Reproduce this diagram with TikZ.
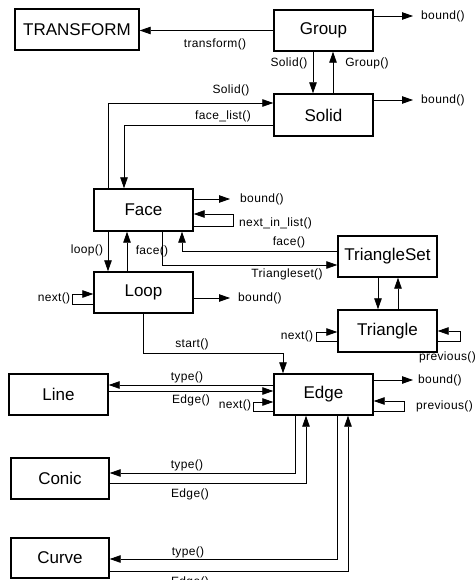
\documentclass[tikz,border=0pt]{standalone}
\usepackage{fontspec}
\setmainfont{Liberation Sans}
\newfontfamily\lblfont[LetterSpace=3]{Liberation Sans}
\usetikzlibrary{arrows.meta}
\begin{document}
\begin{tikzpicture}[x=1pt,y=-1pt,
  box/.style={draw,line width=1.4pt,minimum width=99pt,minimum height=41pt,inner sep=0pt,
    font=\fontsize{17}{20}\selectfont},
  conn/.style={line width=0.8pt,-{Triangle[length=11pt,width=7.5pt]}},
  lbl/.style={inner sep=0pt,font=\lblfont\fontsize{12}{14}\selectfont},
  lblw/.style={lbl,anchor=west}]
\useasboundingbox (0,0) rectangle (475,580);

% classes
\node[box,minimum width=124pt] (T) at (77,29.5) {TRANSFORM};
\node[box] (G) at (323.5,30.5) {Group};
\node[box,minimum height=42pt] (S) at (323.5,115) {Solid};
\node[box,minimum height=42pt] (F) at (143.5,210) {Face};
\node[box] (TS) at (387.5,256.5) {TriangleSet};
\node[box] (L) at (143.5,292.5) {Loop};
\node[box,minimum height=42pt] (Tr) at (387.5,331) {Triangle};
\node[box] (Ln) at (58.5,394.5) {Line};
\node[box] (E) at (323.5,394.5) {Edge};
\node[box,minimum width=98pt] (C) at (60,478.5) {Conic};
\node[box,minimum width=98pt,minimum height=40pt] (Cv) at (60,558) {Curve};

% free ends of the bound() arrows
\coordinate (gb) at (413,16);
\coordinate (sb) at (413,100);
\coordinate (fb) at (230,199);
\coordinate (lb) at (230,298);
\coordinate (eb) at (413,380);

% Group / Solid
\draw[conn] (G.west) -- (G.west -| T.east);
\draw[conn] ([yshift=14.5pt]G.east) -- (gb);
\draw[conn] ([xshift=-10.5pt]G.south) -- ([xshift=-10.5pt]S.north);
\draw[conn] ([xshift=9.5pt]S.north) -- ([xshift=9.5pt]G.south);
\draw[conn] ([yshift=15pt]S.east) -- (sb);
\draw[conn] ([xshift=-35.5pt]F.north) |- ([yshift=12pt]S.west);
\draw[conn] ([yshift=-10pt]S.west) -| ([xshift=-19.5pt]F.north);

% Face
\draw[conn] ([yshift=11pt]F.east) -- (fb);
\draw[conn] ([yshift=-16pt]F.east) -- ++(40,0) |- ([yshift=-4pt]F.east);
\draw[conn] ([xshift=-35.5pt]F.south) -- ([xshift=-35.5pt]L.north);
\draw[conn] ([xshift=-16.5pt]L.north) -- ([xshift=-16.5pt]F.south);
\draw[conn] ([yshift=5.5pt]TS.west) -| ([xshift=38.5pt]F.south);
\draw[conn] ([xshift=18.5pt]F.south) |- ([yshift=-8.5pt]TS.west);

% TriangleSet / Triangle
\draw[conn] ([xshift=-9.5pt]TS.south) -- ([xshift=-9.5pt]Tr.north);
\draw[conn] ([xshift=10.5pt]Tr.north) -- ([xshift=10.5pt]TS.south);
\draw[conn] ([yshift=-10pt]Tr.west) -- ++(-21,0) |- ([yshift=-1pt]Tr.west);
\draw[conn] ([yshift=-10pt]Tr.east) -- ++(23,0) |- (Tr.east);

% Loop
\draw[conn] ([yshift=-11.5pt]L.west) -- ++(-21,0) |- ([yshift=-1.5pt]L.west);
\draw[conn] ([yshift=-5.5pt]L.east) -- (lb);
\draw[conn] (L.south) -- ++(0,40) -| ([xshift=-40.5pt]E.north);

% Edge
\draw[conn] ([yshift=14.5pt]E.east) -- (eb);
\draw[conn] ([yshift=-16.5pt]E.east) -- ++(31,0) |- ([yshift=-6.5pt]E.east);
\draw[conn] ([yshift=-16.5pt]E.west) -- ++(-20,0) |- ([yshift=-7.5pt]E.west);
\draw[conn] ([yshift=9.5pt]E.west) -- ([yshift=9.5pt]Ln.east);
\draw[conn] ([yshift=3.5pt]Ln.east) -- ([yshift=3.5pt]E.west);
\draw[conn] ([xshift=-28.5pt]E.south) |- ([yshift=5.5pt]C.east);
\draw[conn] ([yshift=-4.5pt]C.east) -| ([xshift=-17.5pt]E.south);
\draw[conn] ([xshift=13.5pt]E.south) |- ([yshift=-1pt]Cv.east);
\draw[conn] ([yshift=-13pt]Cv.east) -| ([xshift=24.5pt]E.south);

% method labels
\node[lbl] (l1) at (215,44) {transform()};
\node[lblw] (l2) at (421,16) {bound()};
\node[lbl] (l3) at (289,63) {Solid()};
\node[lbl] (l4) at (367,63) {Group()};
\node[lbl] (l5) at (231,90) {Solid()};
\node[lblw] (l6) at (421,100) {bound()};
\node[lbl] (l7) at (223,116) {face\_list()};
\node[lblw] (l8) at (240,199) {bound()};
\node[lblw] (l9) at (239,223) {next\_in\_list()};
\node[lbl] (l10) at (87,250) {loop()};
\node[lbl] (l11) at (152,251) {face()};
\node[lbl] (l12) at (289,242) {face()};
\node[lbl] (l13) at (287,274) {Triangleset()};
\node[lbl] (l14) at (54,298) {next()};
\node[lblw] (l15) at (238,298) {bound()};
\node[lbl] (l16) at (192,344) {start()};
\node[lbl] (l17) at (297,336) {next()};
\node[lblw] (l18) at (419,357) {previous()};
\node[lbl] (l19) at (187,377) {type()};
\node[lbl] (l20) at (191,400) {Edge()};
\node[lbl] (l21) at (235,405) {next()};
\node[lblw] (l22) at (418,380) {bound()};
\node[lblw] (l23) at (416,406) {previous()};
\node[lbl] (l24) at (187,465) {type()};
\node[lbl] (l25) at (190,494) {Edge()};
\node[lbl] (l26) at (188,552) {type()};
\node[lbl] (l27) at (190,582) {Edge()};
\end{tikzpicture}
\end{document}
